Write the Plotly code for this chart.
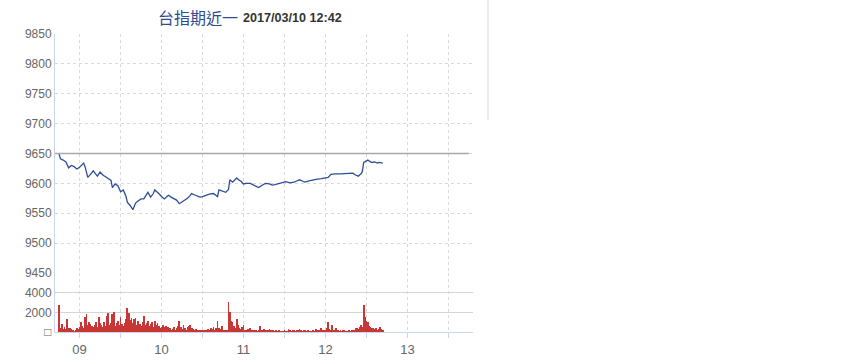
import plotly.graph_objects as go
import pandas as pd

DATE = "2017-03-10"
TITLE_NAME = "台指期近一"
TITLE_TIME = "2017/03/10 12:42"

price_times = [
    "08:45", "08:46", "08:48", "08:50", "08:52", "08:54", "08:56", "08:58",
    "09:00", "09:02", "09:03", "09:04", "09:06", "09:08", "09:10", "09:12",
    "09:13", "09:15", "09:17", "09:19", "09:21", "09:23", "09:24", "09:26",
    "09:28", "09:30", "09:32", "09:34", "09:35", "09:37", "09:39", "09:41",
    "09:43", "09:45", "09:47", "09:49", "09:50", "09:52", "09:54", "09:55",
    "09:57", "09:58", "10:00", "10:02", "10:04", "10:05", "10:07", "10:09",
    "10:11", "10:13", "10:15", "10:17", "10:19", "10:21", "10:22", "10:24",
    "10:26", "10:28", "10:30", "10:32", "10:35", "10:38", "10:41", "10:42",
    "10:44", "10:47", "10:49", "10:50", "10:52", "10:55", "10:57", "10:58",
    "11:00", "11:02", "11:05", "11:08", "11:11", "11:13", "11:16", "11:19",
    "11:21", "11:23", "11:26", "11:28", "11:31", "11:34", "11:37", "11:39",
    "11:41", "11:43", "11:45", "11:48", "11:51", "11:54", "11:57", "12:00",
    "12:02", "12:04", "12:07", "12:11", "12:15", "12:18", "12:20", "12:22",
    "12:24", "12:26", "12:27", "12:28", "12:30", "12:31", "12:33", "12:34",
    "12:36", "12:38", "12:39", "12:41", "12:42",
]
price_values = [
    9649, 9641, 9639, 9636, 9626, 9630, 9628, 9624,
    9627, 9631, 9634, 9628, 9610, 9615, 9621, 9615,
    9612, 9619, 9614, 9611, 9608, 9605, 9593, 9599,
    9596, 9586, 9589, 9578, 9568, 9563, 9556, 9567,
    9571, 9574, 9574, 9580, 9585, 9577, 9583, 9589,
    9586, 9583, 9578, 9574, 9578, 9580, 9577, 9574,
    9572, 9566, 9569, 9571, 9575, 9580, 9583, 9581,
    9579, 9577, 9578, 9580, 9582, 9583, 9578, 9589,
    9587, 9585, 9590, 9606, 9602, 9609, 9605, 9604,
    9599, 9600, 9600, 9596, 9593, 9596, 9600, 9599,
    9597, 9598, 9600, 9602, 9603, 9601, 9602, 9604,
    9606, 9604, 9602, 9604, 9606, 9607, 9608, 9609,
    9610, 9615, 9616, 9616, 9616, 9617, 9617, 9614,
    9612, 9616, 9620, 9635, 9637, 9639, 9636, 9635,
    9636, 9634, 9635, 9634, 9634,
]

vol_start = "08:45"
volumes = [
    2750, 400, 800, 300, 500, 350, 1350, 400, 450, 300, 150, 100, 200, 400, 300,
    500, 1050, 600, 400, 1500, 1850, 700, 1000, 800, 600, 500, 700, 1000, 500, 1500,
    900, 700, 500, 1000, 600, 1650, 1900, 700, 900, 1850, 2000, 600, 900, 1100, 700,
    1500, 800, 600, 900, 1300, 2450, 1900, 1200, 1400, 900, 1350, 1400, 700, 1100, 800,
    600, 1000, 1650, 700, 900, 1100, 600, 800, 1000, 500, 1100, 700, 900, 600, 400,
    500, 700, 500, 600, 300, 500, 400, 250, 300, 500, 200, 400, 600, 1150, 500,
    300, 700, 400, 250, 500, 600, 700, 400, 300, 250, 350, 200, 250, 200, 150,
    250, 200, 150, 200, 300, 250, 400, 300, 500, 200, 400, 1100, 400, 300, 600,
    250, 200, 150, 250, 3050, 2050, 1150, 1000, 600, 400, 1350, 700, 400, 300, 500,
    700, 250, 200, 300, 150, 400, 250, 200, 150, 250, 100, 200, 600, 200, 250,
    300, 200, 250, 150, 300, 200, 150, 250, 100, 150, 100, 150, 100, 50, 100,
    150, 100, 50, 300, 150, 100, 150, 200, 100, 150, 250, 300, 150, 100, 200,
    250, 100, 150, 100, 50, 100, 150, 100, 300, 150, 200, 100, 400, 200, 150,
    250, 400, 1000, 300, 200, 700, 250, 150, 450, 200, 100, 150, 100, 200, 150,
    100, 50, 150, 100, 250, 150, 200, 400, 450, 300, 500, 700, 500, 2750, 1500,
    1150, 1000, 600, 500, 400, 450, 300, 400, 250, 300, 500, 300, 200,
]

prev_close = 9650
price_ticks = [9450, 9500, 9550, 9600, 9650, 9700, 9750, 9800, 9850]
price_ticktext = [str(v) for v in price_ticks]
vol_ticks = [0, 2000, 4000]
vol_ticktext = ["□", "2000", "4000"]
hour_labels = ["09", "10", "11", "12", "13"]
x_range = [f"{DATE} 08:42", f"{DATE} 13:48"]

# x ticks every half hour, labels on the hours
x_tickvals = pd.date_range(f"{DATE} 09:00", f"{DATE} 13:30", freq="30min")
x_ticktext = []
hi = 0
for t in x_tickvals:
    if t.minute == 0:
        x_ticktext.append(hour_labels[hi])
        hi += 1
    else:
        x_ticktext.append("")

W, H = 850, 360
ML, MR, MT, MB = 55, 377, 34, 28
PW = W - ML - MR
PH = H - MT - MB
split = 59 / PH

def px_x(p):
    return (p - ML) / PW

def px_y(p):
    return (H - MB - p) / PH

fig = go.Figure()
fig.add_trace(go.Scatter(
    x=[f"{DATE} {t}" for t in price_times], y=price_values,
    mode="lines", line=dict(color="#2d4e96", width=1.3),
    xaxis="x", yaxis="y", hoverinfo="skip", showlegend=False,
))
vol_times = pd.date_range(f"{DATE} {vol_start}", periods=len(volumes), freq="1min")
fig.add_trace(go.Bar(
    x=vol_times, y=volumes, width=36000,
    marker=dict(color="#c93636", line=dict(width=0)),
    xaxis="x2", yaxis="y2", hoverinfo="skip", showlegend=False,
))

tick_font = dict(family="Liberation Sans, Arial, sans-serif", size=12, color="#666666")
grid_c = "#d9d9d9"
axis_c = "#ccd6eb"
dash = "3px,3px"

fig.update_layout(
    width=W, height=H,
    margin=dict(l=ML, r=MR, t=MT, b=MB, autoexpand=False),
    paper_bgcolor="white", plot_bgcolor="white",
    bargap=0,
    xaxis=dict(
        domain=[0, 1], anchor="y", range=x_range, type="date",
        tickvals=x_tickvals, ticktext=[""] * len(x_tickvals),
        showticklabels=False, showgrid=True, gridcolor=grid_c, griddash=dash,
        gridwidth=1, zeroline=False, showline=False, ticks="", automargin=False,
    ),
    xaxis2=dict(
        domain=[0, 1], anchor="y2", range=x_range, type="date",
        tickvals=x_tickvals, ticktext=x_ticktext,
        tickfont=dict(family="Liberation Sans, Arial, sans-serif", size=13, color="#666666"),
        showgrid=True, gridcolor=grid_c, griddash=dash, gridwidth=1,
        zeroline=False, showline=True, linecolor=axis_c, linewidth=1,
        ticks="outside", ticklen=5, tickcolor=axis_c, automargin=False,
    ),
    yaxis=dict(
        domain=[split, 1], anchor="x", range=[9450, 9850],
        tickvals=price_ticks, ticktext=price_ticktext, tickfont=tick_font,
        showgrid=True, gridcolor=grid_c, griddash=dash, gridwidth=1,
        zeroline=False, showline=True, linecolor=axis_c, linewidth=1, ticks="",
        automargin=False,
    ),
    yaxis2=dict(
        domain=[0, split], anchor="x2", range=[0, 6000],
        tickvals=vol_ticks, ticktext=vol_ticktext, tickfont=tick_font,
        showgrid=True, gridcolor="#d4d4d4", gridwidth=1,
        zeroline=False, showline=True, linecolor=axis_c, linewidth=1, ticks="",
        automargin=False,
    ),
    shapes=[
        dict(type="line", xref="paper", yref="y", x0=0, x1=0.99,
             y0=prev_close, y1=prev_close, line=dict(color="#a8a8a8", width=1.5)),
        dict(type="line", xref="paper", yref="paper",
             x0=px_x(488), x1=px_x(488), y0=px_y(0), y1=px_y(120),
             line=dict(color="#ebebeb", width=2)),
    ],
    annotations=[
        dict(text=TITLE_NAME, xref="paper", yref="paper", x=px_x(156), y=px_y(17),
             xanchor="left", yanchor="middle", showarrow=False,
             font=dict(family="Noto Sans CJK TC, Noto Sans CJK SC, sans-serif", size=16, color="#2f4d8e")),
        dict(text=f"<b>{TITLE_TIME}</b>", xref="paper", yref="paper", x=px_x(241), y=px_y(18),
             xanchor="left", yanchor="middle", showarrow=False,
             font=dict(family="Liberation Sans, Arial, sans-serif", size=12.6, color="#333333")),
    ],
)

fig.write_html("out.html", config={"displayModeBar": False},
               post_script="document.body.style.margin='0';")
